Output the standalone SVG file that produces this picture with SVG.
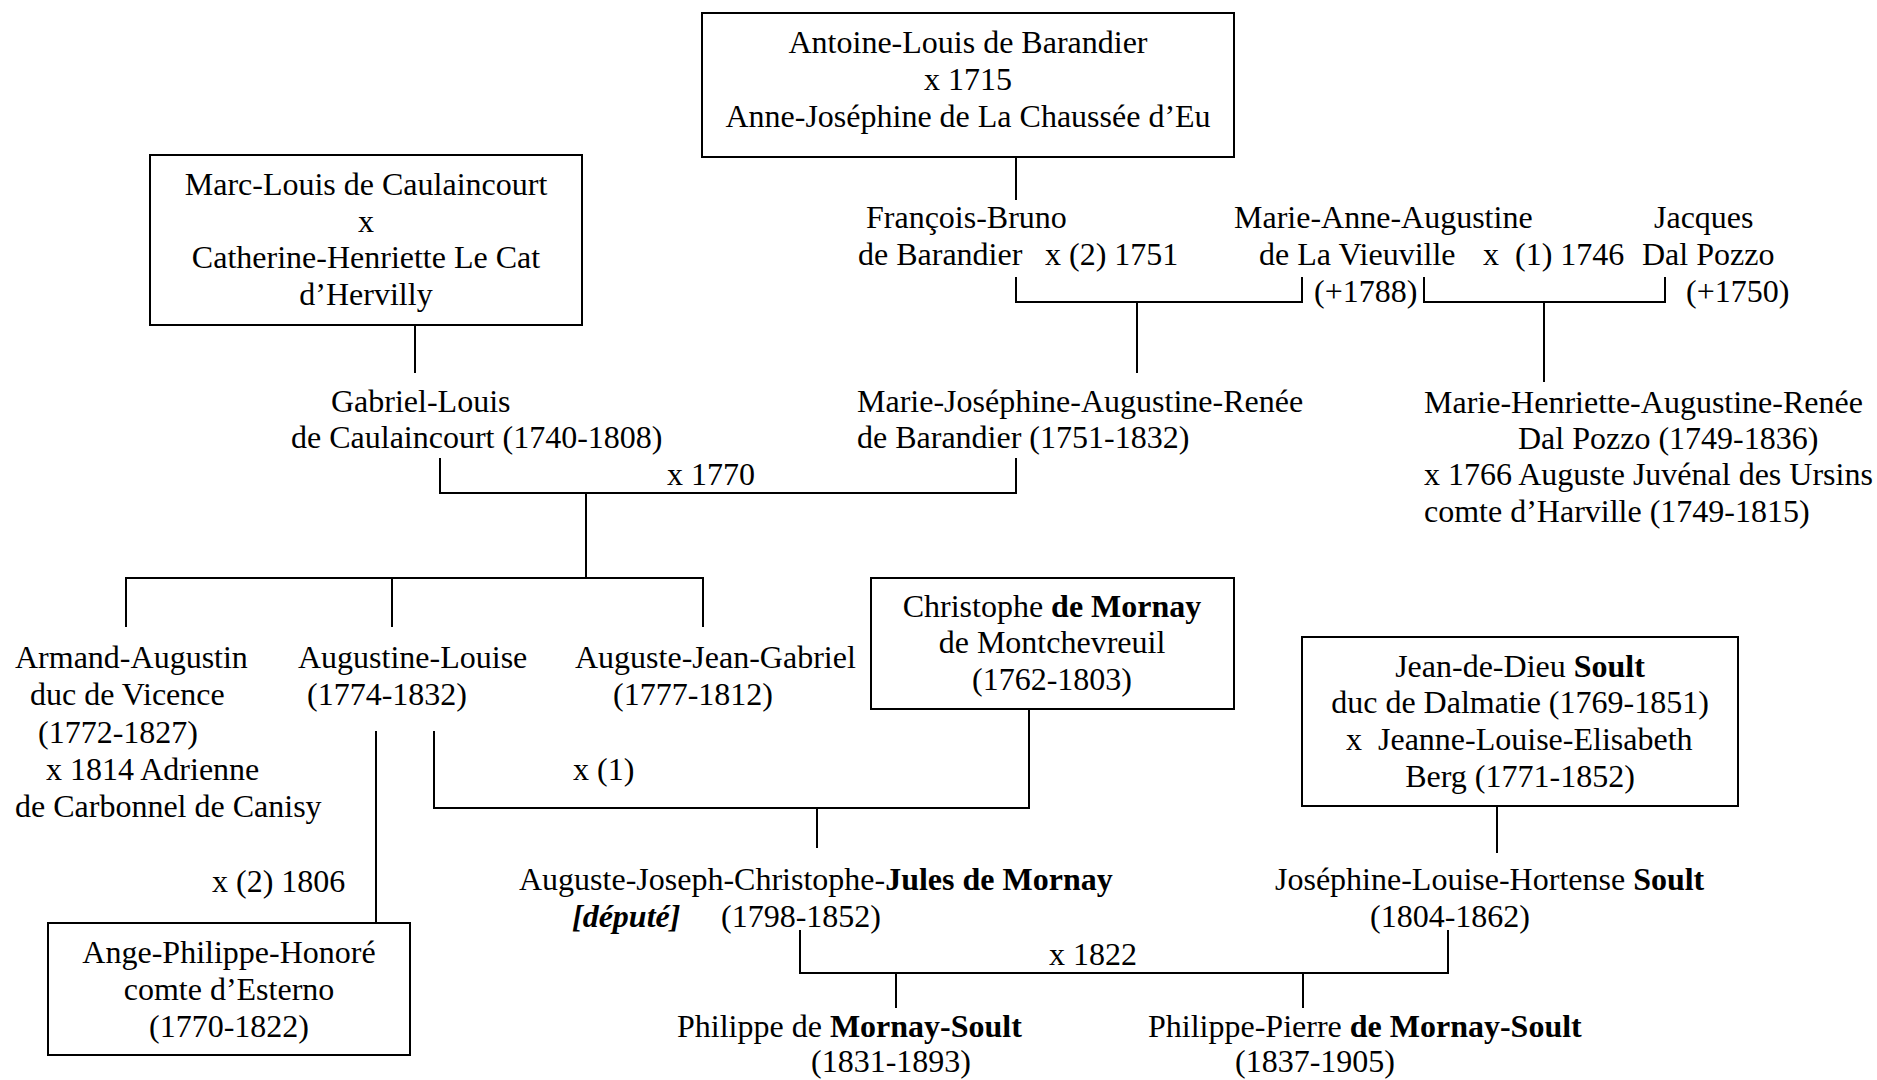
<svg xmlns="http://www.w3.org/2000/svg" width="1877" height="1080" viewBox="0 0 1877 1080">
<style>
text{font-family:"Liberation Serif","Times New Roman",serif;font-size:32px;fill:#000}
.c{text-anchor:middle}
.b{font-weight:bold}
.bi{font-weight:bold;font-style:italic}
.box{fill:#fff;stroke:#000;stroke-width:2}
.ln{fill:none;stroke:#000;stroke-width:2}
</style>
<rect width="1877" height="1080" fill="#fff"/>
<g id="connectors">
<path class="ln" d="M1016 157V200"/>
<path class="ln" d="M1016 277V302H1302V277"/>
<path class="ln" d="M1137 302V373"/>
<path class="ln" d="M1424 277V302H1665V277"/>
<path class="ln" d="M1544 302V382"/>
<path class="ln" d="M415 325V373"/>
<path class="ln" d="M440 458V493H1016V458"/>
<path class="ln" d="M586 493V578"/>
<path class="ln" d="M126 627V578H703V627"/>
<path class="ln" d="M392 578V627"/>
<path class="ln" d="M376 731V923"/>
<path class="ln" d="M434 731V808H1029V709"/>
<path class="ln" d="M817 808V848"/>
<path class="ln" d="M1497 806V853"/>
<path class="ln" d="M800 930V973H1448V930"/>
<path class="ln" d="M896 973V1008"/>
<path class="ln" d="M1303 973V1008"/>
</g>
<g id="antoine">
<rect class="box" x="702" y="13" width="532" height="144"/>
<text class="c" x="968" y="53">Antoine-Louis de Barandier</text>
<text class="c" x="968" y="90">x 1715</text>
<text class="c" x="968" y="127">Anne-Joséphine de La Chaussée d’Eu</text>
</g>
<g id="marc-louis">
<rect class="box" x="150" y="155" width="432" height="170"/>
<text class="c" x="366" y="195">Marc-Louis de Caulaincourt</text>
<text class="c" x="366" y="232">x</text>
<text class="c" x="366" y="268">Catherine-Henriette Le Cat</text>
<text class="c" x="366" y="305">d’Hervilly</text>
</g>
<g id="francois-bruno">
<text x="866" y="228">François-Bruno</text>
<text x="858" y="265">de Barandier</text>
<text x="1045" y="265">x (2) 1751</text>
</g>
<g id="marie-anne">
<text x="1234" y="228">Marie-Anne-Augustine</text>
<text x="1259" y="265">de La Vieuville</text>
<text x="1483" y="265">x</text>
<text x="1515" y="265">(1) 1746</text>
<text x="1314" y="302">(+1788)</text>
</g>
<g id="jacques">
<text x="1654" y="228">Jacques</text>
<text x="1642" y="265">Dal Pozzo</text>
<text x="1686" y="302">(+1750)</text>
</g>
<g id="gabriel-louis">
<text x="331" y="412">Gabriel-Louis</text>
<text x="291" y="448">de Caulaincourt (1740-1808)</text>
</g>
<g id="marie-josephine">
<text x="857" y="412">Marie-Joséphine-Augustine-Renée</text>
<text x="857" y="448">de Barandier (1751-1832)</text>
<text x="667" y="485">x 1770</text>
</g>
<g id="marie-henriette">
<text x="1424" y="413">Marie-Henriette-Augustine-Renée</text>
<text x="1518" y="449">Dal Pozzo (1749-1836)</text>
<text x="1424" y="485">x 1766 Auguste Juvénal des Ursins</text>
<text x="1424" y="522">comte d’Harville (1749-1815)</text>
</g>
<g id="armand-augustin">
<text x="15" y="668">Armand-Augustin</text>
<text x="30" y="705">duc de Vicence</text>
<text x="38" y="743">(1772-1827)</text>
<text x="46" y="780">x 1814 Adrienne</text>
<text x="15" y="817">de Carbonnel de Canisy</text>
</g>
<g id="augustine-louise">
<text x="298" y="668">Augustine-Louise</text>
<text x="307" y="705">(1774-1832)</text>
<text x="573" y="780">x (1)</text>
<text x="212" y="892">x (2) 1806</text>
</g>
<g id="auguste-jean-gabriel">
<text x="575" y="668">Auguste-Jean-Gabriel</text>
<text x="613" y="705">(1777-1812)</text>
</g>
<g id="christophe">
<rect class="box" x="871" y="578" width="363" height="131"/>
<text class="c" x="1052" y="617">Christophe <tspan class="b">de Mornay</tspan></text>
<text class="c" x="1052" y="653">de Montchevreuil</text>
<text class="c" x="1052" y="690">(1762-1803)</text>
</g>
<g id="soult">
<rect class="box" x="1302" y="637" width="436" height="169"/>
<text class="c" x="1520" y="677">Jean-de-Dieu <tspan class="b">Soult</tspan></text>
<text class="c" x="1520" y="713">duc de Dalmatie (1769-1851)</text>
<text x="1346" y="750">x</text>
<text x="1378" y="750">Jeanne-Louise-Elisabeth</text>
<text class="c" x="1520" y="787">Berg (1771-1852)</text>
</g>
<g id="esterno">
<rect class="box" x="48" y="923" width="362" height="132"/>
<text class="c" x="229" y="963">Ange-Philippe-Honoré</text>
<text class="c" x="229" y="1000">comte d’Esterno</text>
<text class="c" x="229" y="1037">(1770-1822)</text>
</g>
<g id="jules">
<text x="519" y="890">Auguste-Joseph-Christophe-<tspan class="b">Jules de Mornay</tspan></text>
<text class="bi" x="572" y="927">[député]</text>
<text x="721" y="927">(1798-1852)</text>
<text x="1049" y="965">x 1822</text>
</g>
<g id="josephine">
<text x="1275" y="890">Joséphine-Louise-Hortense <tspan class="b">Soult</tspan></text>
<text x="1370" y="927">(1804-1862)</text>
</g>
<g id="philippe">
<text x="677" y="1037">Philippe de <tspan class="b">Mornay-Soult</tspan></text>
<text x="811" y="1072">(1831-1893)</text>
</g>
<g id="philippe-pierre">
<text x="1148" y="1037">Philippe-Pierre <tspan class="b">de Mornay-Soult</tspan></text>
<text x="1235" y="1072">(1837-1905)</text>
</g>
</svg>
